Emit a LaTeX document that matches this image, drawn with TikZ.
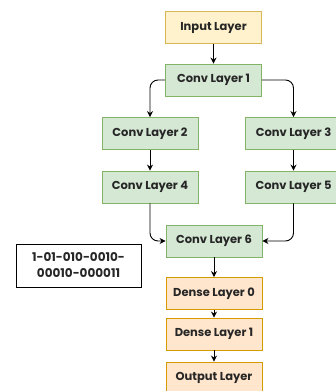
\documentclass[tikz,border=0pt]{standalone}
\usepackage{fontspec}
\setmainfont{Poppins}
\usetikzlibrary{arrows.meta}
\definecolor{inFill}{HTML}{FFF2CC}
\definecolor{inLine}{HTML}{D6B656}
\definecolor{cvFill}{HTML}{D5E8D4}
\definecolor{cvLine}{HTML}{82B366}
\definecolor{dnFill}{HTML}{FFE6CC}
\definecolor{dnLine}{HTML}{D79B00}
\tikzset{
  layer/.style={draw, line width=0.9pt, minimum width=96pt, minimum height=32pt,
    inner sep=0pt, font=\fontsize{11.5}{12}\selectfont\bfseries, text=black!85},
  inputbox/.style={layer, fill=inFill, draw=inLine},
  convbox/.style={layer, fill=cvFill, draw=cvLine},
  densebox/.style={layer, fill=dnFill, draw=dnLine},
  codebox/.style={draw=black, line width=0.9pt, fill=white, minimum width=125pt,
    minimum height=43pt, inner sep=0pt, align=center,
    font=\fontsize{12}{16}\selectfont\bfseries, text=black!85},
  arr/.style={draw=black, line width=0.9pt, -{Stealth[length=6pt,width=6pt]}}
}
\begin{document}
\begin{tikzpicture}[x=1pt,y=-1pt]
\useasboundingbox (0,0) rectangle (336,391);
\node[inputbox] (inp) at (213.5,27.5) {Input Layer};
\node[convbox] (c1) at (213.5,80) {Conv Layer 1};
\node[convbox] (c2) at (150,133.5) {Conv Layer 2};
\node[convbox] (c3) at (293.5,133.5) {Conv Layer 3};
\node[convbox] (c4) at (150,187) {Conv Layer 4};
\node[convbox] (c5) at (293.5,187) {Conv Layer 5};
\node[convbox] (c6) at (214,241) {Conv Layer 6};
\node[densebox] (d0) at (214,293.5) {Dense Layer 0};
\node[densebox] (d1) at (214,334) {Dense Layer 1};
\node[densebox] (out) at (214,378) {Output Layer};
\node[codebox] (code) at (78.5,265.5) {1-01-010-0010-\\00010-000011};

\draw[arr] (inp) -- (c1);
\draw[arr, rounded corners=8pt] (c1.west) -| (c2.north);
\draw[arr, rounded corners=8pt] (c1.east) -| (c3.north);
\draw[arr] (c2) -- (c4);
\draw[arr] (c3) -- (c5);
\draw[arr, rounded corners=8pt] (c4.south) |- (c6.west);
\draw[arr, rounded corners=8pt] (c5.south) |- (c6.east);
\draw[arr] (c6) -- (d0);
\draw[arr] (d0) -- (d1);
\draw[arr] (d1) -- (out);
\end{tikzpicture}
\end{document}
